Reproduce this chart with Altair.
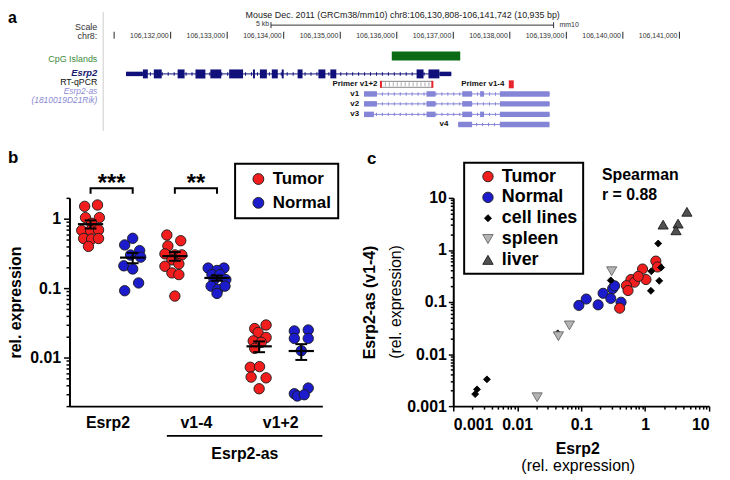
import altair as alt
import pandas as pd
import numpy as np

FONT = "Liberation Sans"
RED, BLUE = "#f21d1d", "#1c1ccc"
NAVY, LAV, GREEN, PRED = "#10107a", "#8585d8", "#0b6b14", "#e8242c"

# ---------------- panel a data (mouse chr8, mm10) ----------------
view_range = [106130808, 106141742]
chr_ticks = [106131000, 106132000, 106133000, 106134000, 106135000, 106136000,
             106137000, 106138000, 106139000, 106140000, 106141000]
chr_tick_labels = ["", "106,132,000", "106,133,000", "106,134,000", "106,135,000",
                   "106,136,000", "106,137,000", "106,138,000", "106,139,000",
                   "106,140,000", "106,141,000"]
scale_bar = [106133775, 106138775]
cpg_islands = [[106135912, 106137123]]
esrp2_span = [106131211, 106136965]
esrp2_utr = [[106131211, 106131509], [106136754, 106136965]]
esrp2_exons = [[106131509, 106131596], [106131702, 106131842], [106132123, 106132246],
               [106132439, 106132614], [106132702, 106132895], [106133035, 106133281],
               [106133456, 106133491], [106133579, 106133702], [106133789, 106133895],
               [106133965, 106134000], [106134246, 106134333], [106134614, 106134737],
               [106134825, 106134930], [106136351, 106136474], [106136561, 106136754]]
as_v1 = [[106135421, 106135649], [106136526, 106136684], [106137158, 106137333],
         [106137474, 106137544], [106137825, 106138702]]
as_v2 = [[106135421, 106135649], [106136526, 106136684], [106137158, 106137333],
         [106137825, 106138702]]
as_v3 = [[106135421, 106135596], [106136526, 106136684], [106137158, 106137333],
         [106137474, 106137544], [106137825, 106138702]]
as_v4 = [[106137088, 106137333], [106137825, 106138702]]
primer_v12 = [106135720, 106136630]
primer_v14 = [106137982, 106138070]
title_a = "Mouse Dec. 2011 (GRCm38/mm10)  chr8:106,130,808-106,141,742 (10,935 bp)"

# ---------------- panel b data ----------------
b_categories = ["Esrp2", "v1-4", "v1+2"]
b_conditions = ["Tumor", "Normal"]
tumor_esrp2 = [1.51, 1.58, 1.04, 1.04, 0.86, 0.68, 0.68, 0.69, 0.52, 0.51, 0.52, 0.40]
tumor_esrp2_jit = [-0.14, 0.165, -0.12, 0.21, 0.025, -0.21, 0.0, 0.19, -0.165, 0.025, 0.19, -0.05]
normal_esrp2 = [0.523, 0.42, 0.348, 0.30, 0.28, 0.21, 0.189, 0.119, 0.092]
normal_esrp2_jit = [0.0, -0.19, 0.165, -0.05, 0.19, -0.21, 0.0, 0.14, -0.19]
tumor_v14 = [0.583, 0.483, 0.406, 0.312, 0.302, 0.302, 0.256, 0.224, 0.207, 0.166, 0.157, 0.077]
tumor_v14_jit = [-0.19, 0.14, -0.165, -0.235, 0.0, 0.165, -0.07, 0.095, -0.235, -0.07, 0.095, 0.0]
normal_v14 = [0.195, 0.195, 0.18, 0.157, 0.157, 0.133, 0.133, 0.107, 0.096, 0.107, 0.084]
normal_v14_jit = [-0.21, 0.165, 0.0, -0.12, 0.07, -0.07, 0.21, -0.14, 0.025, 0.19, 0.0]
tumor_v12 = [0.0262, 0.0295, 0.023, 0.0195, 0.0174, 0.0166, 0.0136, 0.00726, 0.00741,
             0.00524, 0.00511, 0.00356]
tumor_v12_jit = [-0.105, 0.165, -0.025, 0.165, -0.14, 0.05, -0.105, -0.21, 0.01, -0.19, 0.165, 0.0]
normal_v12 = [0.0242, 0.025, 0.0189, 0.0189, 0.01256, 0.00364, 0.00302, 0.0028, 0.00292]
normal_v12_jit = [-0.165, 0.165, -0.165, 0.165, 0.0, 0.165, -0.165, -0.095, 0.07]
b_brackets = [("***", 1, 2), ("**", 3, 4)]

# ---------------- panel c data (x = Esrp2, y = Esrp2-as v1-4) ----------------
c_groups = ["Tumor", "Normal", "cell lines", "spleen", "liver"]
c_tumor_x = [1.47, 1.56, 0.91, 1.03, 0.60, 0.68, 0.51, 0.54, 0.40, 0.78]
c_tumor_y = [0.61, 0.47, 0.43, 0.27, 0.27, 0.24, 0.206, 0.166, 0.076, 0.31]
c_normal_x = [0.092, 0.12, 0.184, 0.22, 0.29, 0.31, 0.333, 0.42]
c_normal_y = [0.086, 0.114, 0.088, 0.147, 0.117, 0.18, 0.204, 0.099]
c_cell_x = [0.0022, 0.00235, 0.00336, 1.6, 1.25, 1.78, 1.66, 1.23, 0.29, 0.043]
c_cell_y = [0.0017, 0.0021, 0.00327, 1.33, 0.39, 0.46, 0.255, 0.164, 0.26, 0.025]
c_spleen_x = [0.30, 0.044, 0.0655, 0.0205]
c_spleen_y = [0.39, 0.022, 0.0355, 0.00148]
c_liver_x = [4.5, 1.91, 3.27, 3.04]
c_liver_y = [5.4, 3.06, 3.2, 2.38]

# ================= layout constants =================
A_W, A_H = 658, 130
B_W, B_H = 255, 210
C_W, C_H = 258, 210
A_X = [106130210, 106141754]
TRACK_Y = {"title": 5, "scale": 15.3, "chr": 25.5, "cpg": 46.5, "esrp2": 64.5,
           "primer": 75, "v1": 84.7, "v2": 94.7, "v3": 105.3, "v4": 115.5}
LABEL_X = 106130702

# ================= panel a =================
xa = alt.Scale(domain=A_X, nice=False, zero=False)
ya = alt.Scale(domain=[0, A_H], reverse=True, nice=False, zero=False)

rects = []
def add_rect(s, e, yc, h, c):
    rects.append(dict(x=s, x2=e, y=yc - h / 2, y2=yc + h / 2, c=c))
for s, e in cpg_islands:
    add_rect(s, e, TRACK_Y["cpg"], 9, GREEN)
for s, e in esrp2_utr:
    add_rect(s, e, TRACK_Y["esrp2"], 4.5, NAVY)
for s, e in esrp2_exons:
    add_rect(s, e, TRACK_Y["esrp2"], 9, NAVY)
transcripts = {"v1": as_v1, "v2": as_v2, "v3": as_v3, "v4": as_v4}
for name, ex in transcripts.items():
    for s, e in ex:
        add_rect(s, e, TRACK_Y[name], 5.5, LAV)
add_rect(primer_v14[0], primer_v14[1], TRACK_Y["primer"], 8, PRED)
df_rects = pd.DataFrame(rects)

hrules = [dict(x=esrp2_span[0], x2=esrp2_span[1], y=TRACK_Y["esrp2"], c=NAVY, w=1)]
for name, ex in transcripts.items():
    hrules.append(dict(x=ex[0][0], x2=ex[-1][1], y=TRACK_Y[name], c=LAV, w=1))
df_introns = pd.DataFrame(hrules)
df_hr = pd.DataFrame(hrules + [dict(x=scale_bar[0], x2=scale_bar[1], y=TRACK_Y["scale"], c="#333", w=1)])

vr = [dict(x=scale_bar[0], y=TRACK_Y["scale"] - 3, y2=TRACK_Y["scale"] + 3, c="#333", w=1),
      dict(x=scale_bar[1], y=TRACK_Y["scale"] - 3, y2=TRACK_Y["scale"] + 3, c="#333", w=1),
      dict(x=view_range[0], y=2, y2=122, c="#dddddd", w=1.5)]
for t in chr_ticks:
    vr.append(dict(x=t, y=TRACK_Y["chr"] - 3.5, y2=TRACK_Y["chr"] + 3.5, c="#222", w=1))
df_vr = pd.DataFrame(vr)
df_pr_ends = pd.DataFrame([dict(x=p, y=TRACK_Y["primer"] - 3.5, y2=TRACK_Y["primer"] + 3.5) for p in primer_v12])
df_amp = pd.DataFrame([dict(x=primer_v12[0], x2=primer_v12[1], y=TRACK_Y["primer"] - 3,
                            y2=TRACK_Y["primer"] + 3, yc=TRACK_Y["primer"])])

def Xa(f="x"):
    return alt.X(f + ":Q", scale=xa, axis=None)
def Ya(f="y"):
    return alt.Y(f + ":Q", scale=ya, axis=None)

a_layers = []
a_layers.append(alt.Chart(df_hr).mark_rule().encode(
    x=Xa(), x2="x2:Q", y=Ya(), color=alt.Color("c:N", scale=None),
    strokeWidth=alt.StrokeWidth("w:Q", scale=None)))
a_layers.append(alt.Chart(df_introns).mark_rule(strokeDash=[1, 5], strokeWidth=3.5).encode(
    x=Xa(), x2="x2:Q", y=Ya(), color=alt.Color("c:N", scale=None)))
a_layers.append(alt.Chart(df_vr).mark_rule().encode(
    x=Xa(), y=Ya(), y2="y2:Q", color=alt.Color("c:N", scale=None),
    strokeWidth=alt.StrokeWidth("w:Q", scale=None)))
a_layers.append(alt.Chart(df_amp).mark_rect(fill="white", stroke="#888", strokeWidth=1).encode(
    x=Xa(), x2="x2:Q", y=Ya(), y2="y2:Q"))
a_layers.append(alt.Chart(df_amp).mark_rule(strokeDash=[0.8, 3.2], strokeWidth=4, color="#999").encode(
    x=Xa(), x2="x2:Q", y=Ya("yc")))
a_layers.append(alt.Chart(df_pr_ends).mark_rule(color=PRED, strokeWidth=2).encode(
    x=Xa(), y=Ya(), y2="y2:Q"))
a_layers.append(alt.Chart(df_rects).mark_rect().encode(
    x=Xa(), x2="x2:Q", y=Ya(), y2="y2:Q", color=alt.Color("c:N", scale=None)))

def text_layer(rows, **kw):
    df = pd.DataFrame(rows, columns=["x", "y", "t"])
    params = dict(font=FONT, baseline="middle")
    params.update(kw)
    return alt.Chart(df).mark_text(**params).encode(x=Xa(), y=Ya(), text="t:N")

a_layers.append(text_layer([[LABEL_X, 17, "Scale"], [LABEL_X, 26, "chr8:"]],
                           align="right", fontSize=9, color="#333"))
a_layers.append(text_layer([[LABEL_X, 49, "CpG Islands"]], align="right", fontSize=9, color="#3c8c3c"))
a_layers.append(text_layer([[LABEL_X, 63.3, "Esrp2"]], align="right", fontSize=9.5, color="#1a1a70",
                           fontWeight="bold", fontStyle="italic"))
a_layers.append(text_layer([[LABEL_X, 73, "RT-qPCR"]], align="right", fontSize=8.8, color="#111"))
a_layers.append(text_layer([[LABEL_X, 81.8, "Esrp2-as"], [LABEL_X, 90.5, "(1810019D21Rik)"]],
                           align="right", fontSize=8.5, color="#8a8ad2", fontStyle="italic"))
a_layers.append(text_layer([[106136105, TRACK_Y["title"], title_a]], align="center", fontSize=9, color="#222"))
a_layers.append(text_layer([[scale_bar[0], TRACK_Y["scale"] - 1.5, "5 kb"]], align="right", dx=-2,
                           fontSize=7, color="#333"))
a_layers.append(text_layer([[scale_bar[1], TRACK_Y["scale"] - 0.5, "mm10"]], align="left", dx=6,
                           fontSize=7, color="#333"))
a_layers.append(text_layer([[t, TRACK_Y["chr"] + 0.5, l] for t, l in zip(chr_ticks, chr_tick_labels) if l],
                           align="right", dx=-2, fontSize=7, color="#333"))
a_layers.append(text_layer([[106135660, TRACK_Y["primer"], "Primer v1+2"],
                            [106135333, TRACK_Y["v1"], "v1"], [106135333, TRACK_Y["v2"], "v2"],
                            [106135333, TRACK_Y["v3"], "v3"], [106136912, TRACK_Y["v4"], "v4"]],
                           align="right", fontSize=8, fontWeight="bold", color="#111"))
a_layers.append(text_layer([[106137140, TRACK_Y["primer"], "Primer v1-4"]],
                           align="left", fontSize=8, fontWeight="bold", color="#111"))
a_layers.append(alt.Chart(pd.DataFrame({"t": ["a"]})).mark_text(
    font=FONT, fontSize=16, fontWeight="bold", align="left", baseline="top").encode(
    x=alt.value(-62), y=alt.value(0), text="t:N"))
panel_a = alt.layer(*a_layers).properties(width=A_W, height=A_H)

# ================= panel b =================
MAJ = "abs(log(datum.value)/LN10 - round(log(datum.value)/LN10)) < 0.001"
def log_ticks(lo, hi):
    out = []
    for e in range(-4, 2):
        for m in range(1, 10):
            v = round(m * 10.0 ** e, 8)
            if lo - 1e-12 <= v <= hi + 1e-12:
                out.append(v)
    return out

b_ticks = log_ticks(0.002, 2)
rows = []
series = [("Esrp2", "Tumor", tumor_esrp2, tumor_esrp2_jit), ("Esrp2", "Normal", normal_esrp2, normal_esrp2_jit),
          ("v1-4", "Tumor", tumor_v14, tumor_v14_jit), ("v1-4", "Normal", normal_v14, normal_v14_jit),
          ("v1+2", "Tumor", tumor_v12, tumor_v12_jit), ("v1+2", "Normal", normal_v12, normal_v12_jit)]
for cat, cond, vals, jit in series:
    base = 1 + 2 * b_categories.index(cat) + b_conditions.index(cond)
    for v, j in zip(vals, jit):
        rows.append(dict(cat=cat, cond=cond, base=base, pos=base + j, value=v))
df_b = pd.DataFrame(rows)
st = df_b.groupby(["cat", "cond", "base"])["value"].agg(["mean", "std", "count"]).reset_index()
st["sem"] = st["std"] / np.sqrt(st["count"])
st["lo"] = st["mean"] - st["sem"]
st["hi"] = st["mean"] + st["sem"]
st["mx1"], st["mx2"] = st["base"] - 0.3, st["base"] + 0.3
st["cx1"], st["cx2"] = st["base"] - 0.14, st["base"] + 0.14

xb = alt.Scale(domain=[0.5, 6.5], nice=False, zero=False)
yb = alt.Scale(type="log", domain=[0.002, 2], nice=False)
AX_BX = alt.Axis(values=[1.4, 3.5, 5.5], labelExpr="datum.value < 2 ? 'Esrp2' : (datum.value < 4 ? 'v1-4' : 'v1+2')",
                 ticks=False, tickSize=0, labelPadding=9, title=None, labelAngle=0)
AX_BY = alt.Axis(values=b_ticks, format="~g", labelExpr=MAJ + " ? datum.label : ''",
                 tickSize={"condition": {"test": MAJ, "value": 6}, "value": 3.5},
                 labelPadding=3, labelOverlap=False, title="rel. expression",
                 titleX=-54, titleY=B_H / 2, titleAngle=270, titleAlign="center", titleBaseline="middle")
def Xb(f):
    return alt.X(f, scale=xb, axis=AX_BX)
def Yb(f):
    return alt.Y(f, scale=yb, axis=AX_BY)

BR_TOP, BR_FOOT, STAR_Y = 2.75, 2.3, 2.53
br_rows, star_rows = [], []
for i, (lab, g1, g2) in enumerate(b_brackets):
    for k, (xx, yy) in enumerate([(g1, BR_FOOT), (g1, BR_TOP), (g2, BR_TOP), (g2, BR_FOOT)]):
        br_rows.append(dict(pos=xx, value=yy, id=i, o=k))
    star_rows.append(dict(pos=(g1 + g2) / 2, value=STAR_Y, t=lab))
df_br, df_star = pd.DataFrame(br_rows), pd.DataFrame(star_rows)

b_layers = [
    alt.Chart(df_b).mark_circle(size=110, opacity=1, stroke="#1a1a1a", strokeWidth=0.9).encode(
        x=Xb("pos:Q"), y=Yb("value:Q"),
        fill=alt.Fill("cond:N", scale=alt.Scale(domain=b_conditions, range=[RED, BLUE]),
                      legend=alt.Legend(orient="none", legendX=167, legendY=-34.5, title=None,
                                        labelFont=FONT, labelFontSize=17, labelFontWeight="bold",
                                        labelColor="black", symbolType="circle", symbolSize=120,
                                        symbolStrokeColor="#1a1a1a", symbolStrokeWidth=0.9,
                                        padding=7, rowPadding=6, symbolOffset=8, labelOffset=6,
                                        strokeColor="black"))),
    alt.Chart(st).mark_rule(color="black", strokeWidth=2.2).encode(x=Xb("mx1:Q"), x2="mx2:Q", y=Yb("mean:Q")),
    alt.Chart(st).mark_rule(color="black", strokeWidth=2).encode(x=Xb("base:Q"), y=Yb("lo:Q"), y2="hi:Q"),
    alt.Chart(st).mark_rule(color="black", strokeWidth=2).encode(x=Xb("cx1:Q"), x2="cx2:Q", y=Yb("lo:Q")),
    alt.Chart(st).mark_rule(color="black", strokeWidth=2).encode(x=Xb("cx1:Q"), x2="cx2:Q", y=Yb("hi:Q")),
    alt.Chart(df_br).mark_line(color="black", strokeWidth=2).encode(
        x=Xb("pos:Q"), y=Yb("value:Q"), detail="id:N", order="o:Q"),
    alt.Chart(df_star).mark_text(font=FONT, fontSize=24, fontWeight="bold", baseline="alphabetic").encode(
        x=Xb("pos:Q"), y=Yb("value:Q"), text="t:N"),
    alt.Chart(pd.DataFrame({"x1": [2.81], "x2": [6.5]})).mark_rule(color="black", strokeWidth=2).encode(
        x=Xb("x1:Q"), x2="x2:Q", y=alt.value(240)),
    alt.Chart(pd.DataFrame({"pos": [4.66], "t": ["Esrp2-as"]})).mark_text(
        font=FONT, fontSize=16, fontWeight="bold", baseline="alphabetic").encode(
        x=Xb("pos:Q"), y=alt.value(263), text="t:N"),
    alt.Chart(pd.DataFrame({"t": ["b"]})).mark_text(
        font=FONT, fontSize=17, fontWeight="bold", align="left", baseline="alphabetic").encode(
        x=alt.value(-62), y=alt.value(-35.5), text="t:N"),
]
panel_b = alt.layer(*b_layers).properties(width=B_W, height=B_H)

# ================= panel c =================
c_rows = []
for g, xs_, ys_ in [("Tumor", c_tumor_x, c_tumor_y), ("Normal", c_normal_x, c_normal_y),
                    ("cell lines", c_cell_x, c_cell_y), ("spleen", c_spleen_x, c_spleen_y),
                    ("liver", c_liver_x, c_liver_y)]:
    for a, b in zip(xs_, ys_):
        c_rows.append(dict(g=g, ex=a, ey=b))
df_c = pd.DataFrame(c_rows)
z_order = {"Normal": 0, "Tumor": 1, "cell lines": 2, "spleen": 3, "liver": 4}
df_c["z"] = df_c["g"].map(z_order)

c_ticks = log_ticks(0.001, 10)
xc = alt.Scale(type="log", domain=[0.001, 10], nice=False)
yc = alt.Scale(type="log", domain=[0.001, 10], nice=False)
AX_CX = alt.Axis(values=c_ticks, format="~g", labelExpr=MAJ + " ? datum.label : ''",
                 tickSize={"condition": {"test": MAJ, "value": 5}, "value": 3},
                 labelPadding=6, labelOverlap=False, title="Esrp2",
                 titleX=125, titleY=48, titleAlign="center", titleBaseline="alphabetic")
AX_CY = alt.Axis(values=c_ticks, format="~g", labelExpr=MAJ + " ? datum.label : ''",
                 tickSize={"condition": {"test": MAJ, "value": 5}, "value": 3},
                 labelPadding=2, labelOverlap=False, title="Esrp2-as (v1-4)",
                 titleX=-84, titleY=C_H / 2, titleAngle=270, titleAlign="center", titleBaseline="middle")
DIAMOND = "M0,-0.68L0.68,0L0,0.68L-0.68,0Z"
c_leg = alt.Legend(orient="none", legendX=11, legendY=-35.5, title=None, labelFont=FONT,
                   labelFontSize=18, labelFontWeight="bold", labelColor="black", symbolSize=110,
                   symbolStrokeWidth=0.9, padding=5, rowPadding=3, symbolOffset=10, labelOffset=5,
                   strokeColor="black")
c_layers = [
    alt.Chart(df_c).mark_point(filled=True, size=105, opacity=1, strokeWidth=0.9).encode(
        x=alt.X("ex:Q", scale=xc, axis=AX_CX),
        y=alt.Y("ey:Q", scale=yc, axis=AX_CY),
        fill=alt.Fill("g:N", scale=alt.Scale(domain=c_groups,
                                             range=[RED, BLUE, "#000000", "#b4b4b4", "#505050"]), legend=c_leg),
        shape=alt.Shape("g:N", scale=alt.Scale(domain=c_groups,
                                               range=["circle", "circle", DIAMOND, "triangle-down", "triangle-up"]),
                        legend=c_leg),
        stroke=alt.Stroke("g:N", scale=alt.Scale(domain=c_groups,
                                                 range=["#1a1a1a", "#1a1a1a", "#000000", "#666666", "#1a1a1a"]),
                          legend=c_leg),
        order=alt.Order("z:Q"),
    ),
    alt.Chart(pd.DataFrame({"t": ["(rel. expression)"]})).mark_text(
        font=FONT, fontSize=16, angle=270, baseline="middle", align="center").encode(
        x=alt.value(-58), y=alt.value(C_H / 2), text="t:N"),
    alt.Chart(pd.DataFrame({"t": ["(rel. expression)"]})).mark_text(
        font=FONT, fontSize=16, baseline="alphabetic", align="center").encode(
        x=alt.value(126), y=alt.value(275), text="t:N"),
    alt.Chart(pd.DataFrame({"t": ["Spearman\nr = 0.88"]})).mark_text(
        font=FONT, fontSize=16, fontWeight="bold", baseline="alphabetic", align="left",
        lineBreak="\n", lineHeight=20).encode(
        x=alt.value(150), y=alt.value(-18.2), text="t:N"),
    alt.Chart(pd.DataFrame({"t": ["c"]})).mark_text(
        font=FONT, fontSize=17, fontWeight="bold", align="left", baseline="alphabetic").encode(
        x=alt.value(-87), y=alt.value(-34.5), text="t:N"),
]
panel_c = alt.layer(*c_layers).properties(width=C_W, height=C_H)

RES = dict(fill="independent", shape="independent", stroke="independent")
bottom = alt.hconcat(panel_b, panel_c, spacing=132, bounds="flush").resolve_scale(**RES).resolve_legend(**RES)
chart = alt.vconcat(panel_a, bottom, spacing=59.5, bounds="flush").resolve_scale(**RES).resolve_legend(
    **RES).properties(padding=0).configure_view(stroke=None).configure_axis(
    domainColor="black", domainWidth=2, tickColor="black", tickWidth=1.5, grid=False,
    labelFont=FONT, labelFontSize=16, labelFontWeight="bold", labelColor="black",
    titleFont=FONT, titleFontSize=16, titleFontWeight="bold", titleColor="black",
).configure_legend(strokeWidth=2)

chart.save("out.html", embed_options={"renderer": "svg", "actions": False})
